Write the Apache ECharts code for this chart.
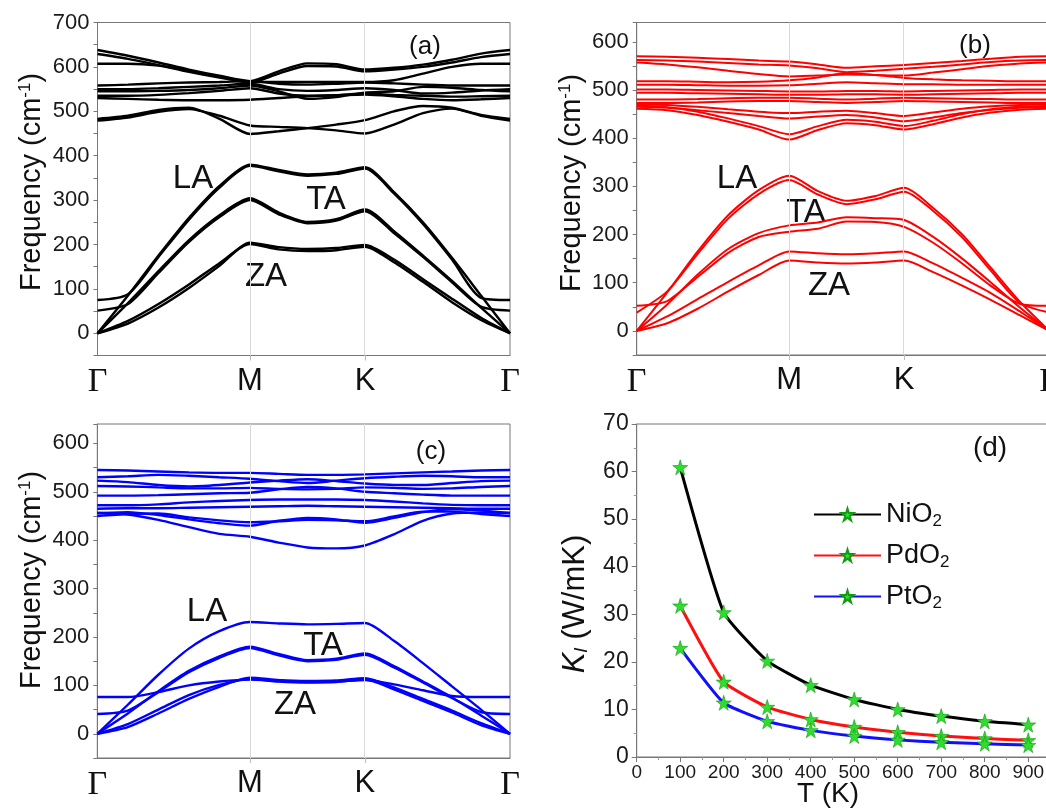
<!DOCTYPE html>
<html><head><meta charset="utf-8">
<script src="https://cdn.jsdelivr.net/npm/echarts@6/dist/echarts.min.js"></script>
<style>html,body{margin:0;padding:0;background:#fff}#c{width:1046px;height:808px}</style>
</head><body><div id="c"></div>
<script>
// ---- k-path (high-symmetry points) ----
const kLabels = ['Γ', 'M', 'K', 'Γ'];
const kSeg = [1.0, 0.754, 0.951];            // relative lengths Γ-M, M-K, K-Γ
const kFrac = [0, 0.2, 0.4, 0.6, 0.8, 1, 1.25, 1.5, 1.75, 2, 2.2, 2.4, 2.6, 2.8, 3];

// ---- (a) NiO2 phonon bands (cm-1) ----
const A_LA1 = [0, 85, 175, 260, 332, 380, 368, 358, 362, 374, 318, 250, 170, 85, 0];
const A_LA2 = [75, 88, 172, 256, 328, 377, 365, 355, 359, 371, 315, 246, 166, 80, 75];
const A_TA1 = [0, 68, 140, 210, 266, 304, 272, 251, 257, 279, 230, 175, 118, 58, 0];
const A_TA2 = [51, 66, 136, 206, 262, 300, 268, 248, 254, 275, 226, 172, 115, 60, 51];
const A_ZA1 = [0, 22, 58, 102, 152, 204, 194, 190, 192, 199, 166, 122, 78, 35, 0];
const A_ZA2 = [0, 28, 66, 110, 158, 201, 189, 185, 187, 195, 160, 116, 70, 30, 0];
const A_O1 = [638, 625, 610, 594, 580, 568, 590, 608, 606, 594, 598, 605, 616, 630, 638];
const A_O2 = [629, 618, 604, 589, 576, 565, 585, 602, 601, 590, 594, 600, 610, 622, 629];
const A_O3 = [607, 607, 603, 592, 578, 566, 566, 566, 566, 566, 570, 585, 600, 607, 607];
const A_O4 = [558, 560, 563, 565, 566, 568, 562, 560, 562, 565, 563, 560, 558, 558, 558];
const A_O5 = [550, 550, 552, 555, 558, 562, 550, 546, 548, 552, 548, 540, 542, 547, 550];
const A_O6 = [545, 545, 546, 548, 552, 558, 545, 528, 532, 542, 545, 555, 553, 548, 545];
const A_O7 = [535, 535, 537, 541, 546, 552, 540, 535, 536, 540, 537, 535, 533, 534, 535];
const A_O8 = [530, 528, 526, 525, 525, 526, 530, 534, 536, 538, 534, 528, 525, 527, 530];
const A_O9 = [483, 490, 503, 508, 483, 449, 455, 462, 470, 480, 500, 512, 508, 492, 483];
const A_O10 = [479, 486, 499, 505, 490, 468, 465, 462, 457, 450, 470, 496, 506, 490, 479];

// ---- (b) PdO2 phonon bands ----
const B_LA1 = [0, 80, 165, 240, 292, 322, 290, 270, 280, 297, 255, 200, 130, 60, 0];
const B_LA2 = [38, 82, 160, 233, 284, 313, 283, 263, 273, 289, 249, 194, 124, 58, 38];
const B_TA1 = [0, 55, 117, 170, 203, 219, 225, 236, 234, 230, 195, 150, 100, 48, 0];
const B_TA2 = [52, 62, 112, 162, 195, 206, 212, 227, 226, 216, 183, 140, 93, 56, 52];
const B_ZA1 = [0, 30, 66, 102, 136, 165, 161, 159, 161, 165, 140, 110, 78, 40, 0];
const B_ZA2 = [0, 16, 46, 82, 116, 146, 142, 140, 142, 146, 122, 94, 64, 32, 0];
const B_O1 = [570, 569, 567, 564, 561, 559, 553, 546, 549, 552, 556, 560, 565, 569, 570];
const B_O2 = [562, 561, 559, 556, 553, 551, 545, 537, 540, 544, 548, 553, 558, 561, 562];
const B_O3 = [557, 553, 547, 540, 533, 528, 530, 532, 531, 530, 536, 543, 550, 555, 557];
const B_O4 = [518, 518, 517, 516, 517, 520, 526, 535, 531, 525, 522, 520, 519, 518, 518];
const B_O5 = [511, 511, 510, 509, 509, 510, 513, 516, 514, 512, 512, 511, 511, 511, 511];
const B_O6 = [501, 501, 500, 499, 498, 497, 497, 498, 498, 497, 498, 499, 500, 501, 501];
const B_O7 = [494, 494, 493, 492, 491, 490, 490, 491, 491, 490, 491, 492, 493, 494, 494];
const B_O8 = [480, 480, 481, 483, 484, 484, 482, 480, 482, 484, 483, 482, 481, 480, 480];
const B_O9 = [473, 473, 474, 476, 477, 477, 475, 473, 475, 477, 476, 475, 474, 473, 473];
const B_O10 = [467, 464, 455, 441, 425, 408, 425, 438, 434, 425, 436, 450, 460, 465, 467];
const B_O11 = [461, 458, 448, 434, 418, 397, 417, 431, 427, 418, 429, 443, 453, 459, 461];
const B_O12 = [470, 469, 465, 460, 455, 452, 455, 457, 452, 446, 453, 461, 466, 469, 470];
const B_O13 = [465, 463, 458, 452, 446, 441, 445, 448, 443, 435, 443, 452, 459, 463, 465];

// ---- (c) PtO2 phonon bands ----
const C_LA1 = [0, 60, 122, 176, 212, 231, 228, 226, 227, 229, 192, 146, 98, 50, 0];
const C_TA1 = [0, 42, 88, 130, 160, 180, 165, 152, 155, 166, 140, 108, 75, 38, 0];
const C_TA2 = [41, 48, 86, 127, 157, 177, 162, 150, 153, 163, 137, 106, 74, 45, 41];
const C_ZA1 = [0, 14, 42, 72, 97, 116, 111, 109, 110, 115, 96, 72, 48, 22, 0];
const C_ZA2 = [0, 20, 50, 80, 101, 113, 108, 106, 107, 112, 92, 68, 44, 18, 0];
const C_LO = [76, 76, 86, 100, 108, 112, 109, 107, 108, 111, 102, 90, 78, 76, 76];
const C_O1 = [545, 544, 542, 540, 539, 539, 537, 535, 535, 536, 538, 540, 542, 544, 545];
const C_O2 = [530, 532, 535, 533, 530, 527, 522, 518, 523, 528, 531, 533, 532, 530, 530];
const C_O3 = [523, 520, 514, 511, 514, 519, 523, 526, 522, 517, 514, 514, 518, 522, 523];
const C_O4 = [512, 511, 509, 507, 507, 508, 506, 505, 506, 509, 508, 506, 507, 510, 512];
const C_O5 = [492, 492, 493, 495, 497, 498, 505, 510, 507, 500, 497, 494, 492, 492, 492];
const C_O6 = [472, 472, 474, 478, 481, 483, 484, 484, 484, 483, 480, 476, 473, 472, 472];
const C_O7 = [465, 466, 466, 467, 468, 469, 470, 471, 470, 469, 468, 467, 466, 465, 465];
const C_O8 = [456, 458, 452, 443, 435, 430, 440, 446, 443, 436, 446, 458, 464, 461, 456];
const C_O9 = [450, 454, 455, 447, 441, 437, 439, 442, 441, 439, 449, 459, 459, 454, 450];
const C_O10 = [456, 453, 442, 427, 413, 407, 395, 385, 383, 389, 412, 440, 455, 457, 456];

// ---- (d) lattice thermal conductivity ----
const T_K = [100, 200, 300, 400, 500, 600, 700, 800, 900];
const K_NiO2 = [60.9, 30.4, 20.2, 15.1, 12.1, 10.0, 8.6, 7.5, 6.8];
const K_PdO2 = [31.8, 15.8, 10.5, 7.9, 6.3, 5.2, 4.4, 3.9, 3.5];
const K_PtO2 = [22.9, 11.4, 7.5, 5.6, 4.4, 3.6, 3.1, 2.8, 2.5];
const yTicksFreq = [0, 100, 200, 300, 400, 500, 600, 700];

// ---------------------------------------------
const kTicks = [0, kSeg[0], kSeg[0] + kSeg[1], kSeg[0] + kSeg[1] + kSeg[2]];
function kx(s) {
  const i = Math.min(Math.floor(s), 2);
  return kTicks[i] + (s - i) * kSeg[i];
}
const FONT = 'Liberation Sans, Arial, sans-serif';
const SERIF = 'Liberation Serif, Times New Roman, serif';

const bandsA = [A_LA1, A_LA2, A_TA1, A_TA2, A_ZA1, A_ZA2, A_O1, A_O2, A_O3, A_O4, A_O5, A_O6, A_O7, A_O8, A_O9, A_O10];
const bandsB = [B_LA1, B_LA2, B_TA1, B_TA2, B_ZA1, B_ZA2, B_O1, B_O2, B_O3, B_O4, B_O5, B_O6, B_O7, B_O8, B_O9, B_O10, B_O11, B_O12, B_O13];
const bandsC = [C_LA1, C_TA1, C_TA2, C_ZA1, C_ZA2, C_LO, C_O1, C_O2, C_O3, C_O4, C_O5, C_O6, C_O7, C_O8, C_O9, C_O10];

function bandSeries(bands, idx, color, width) {
  const out = [];
  out.push({
    type: 'line', xAxisIndex: idx, yAxisIndex: idx, data: bands[0].map((f, i) => [kx(kFrac[i]), f]),
    showSymbol: false, lineStyle: { opacity: 0 }, silent: true, z: 1,
    markLine: {
      silent: true, symbol: ['none', 'none'], label: { show: false },
      lineStyle: { color: '#d9d9d9', width: 1, type: 'solid' },
      data: [{ xAxis: kTicks[1] }, { xAxis: kTicks[2] }], animation: false
    }
  });
  bands.forEach(b => out.push({
    type: 'line', xAxisIndex: idx, yAxisIndex: idx,
    data: b.map((f, i) => [kx(kFrac[i]), f]),
    showSymbol: false, smooth: 0.25, silent: true, z: 3,
    lineStyle: { color: color, width: width }
  }));
  return out;
}

function kXAxis(idx) {
  return {
    gridIndex: idx, type: 'value', min: 0, max: kTicks[3],
    axisLine: { show: true, onZero: false, lineStyle: { color: '#777', width: 1 } },
    axisTick: { show: true, customValues: [kTicks[1], kTicks[2]], length: 5, lineStyle: { color: '#bbb' } },
    axisLabel: {
      customValues: kTicks, margin: 10, showMinLabel: true, showMaxLabel: true,
      formatter: v => {
        const i = kTicks.findIndex(t => Math.abs(t - v) < 1e-6);
        if (i < 0) return '';
        return kLabels[i] === 'Γ' ? '{g|Γ}' : '{s|' + kLabels[i] + '}';
      },
      rich: {
        g: { fontFamily: SERIF, fontSize: 34, color: '#111' },
        s: { fontFamily: FONT, fontSize: 31, color: '#111' }
      }
    },
    splitLine: { show: false }
  };
}
function fYAxis(idx, max) {
  return {
    gridIndex: idx, type: 'value', min: -50, max: max, interval: 50,
    axisLine: { show: true, onZero: false, lineStyle: { color: '#777' } },
    axisTick: { show: true, length: 4, lineStyle: { color: '#777' } },
    axisLabel: {
      margin: 8, fontSize: 22, fontFamily: FONT, color: '#1a1a1a',
      formatter: v => (yTicksFreq.indexOf(v) >= 0 ? String(v) : '')
    },
    splitLine: { show: false }
  };
}

const star = 'path://M50,0 L61,35 L98,35 L68,57 L79,91 L50,70 L21,91 L32,57 L2,35 L39,35 Z';
function kSeries(name, data, color) {
  return {
    name: name, type: 'line', xAxisIndex: 3, yAxisIndex: 3,
    data: T_K.map((t, i) => [t, data[i]]),
    smooth: 0.15, symbol: star, symbolSize: 15, showSymbol: true,
    lineStyle: { color: color, width: 3 },
    itemStyle: { color: '#2fdc2f', borderColor: '#129a12', borderWidth: 0.6 },
    z: 3
  };
}

const series = [].concat(
  bandSeries(bandsA, 0, '#000000', 2.4),
  bandSeries(bandsB, 1, '#ff0000', 2),
  bandSeries(bandsC, 2, '#0000ff', 2.4),
  [kSeries('NiO2', K_NiO2, '#000000'), kSeries('PdO2', K_PdO2, '#ff1010'), kSeries('PtO2', K_PtO2, '#1010ff')]
);

function txt(x, y, text, size, extra) {
  return Object.assign({
    type: 'text', x: x, y: y, silent: true,
    style: { text: text, fontSize: size, fontFamily: FONT, fill: '#111', align: 'center', verticalAlign: 'middle' }
  }, extra || {});
}
function rtxt(x, y, text, rich) {
  return {
    type: 'text', x: x, y: y, rotation: Math.PI / 2, silent: true,
    style: { text: text, rich: rich, fill: '#111', align: 'center', verticalAlign: 'middle', fontFamily: FONT }
  };
}
const freqRich = {
  a: { fontSize: 29, fontFamily: FONT, color: '#111' },
  s: { fontSize: 17, fontFamily: FONT, color: '#111', padding: [0, 0, 14, 0] }
};
const freqName = '{a|Frequency (cm}{s|-1}{a|)}';

const grids = [
  { left: 97.5, top: 22.5, width: 412.5, height: 333 },
  { left: 636.7, top: 22.5, width: 412.5, height: 332.5 },
  { left: 97.3, top: 424, width: 412.7, height: 334 },
  { left: 636.7, top: 424, width: 413.3, height: 333 }
].map(g => Object.assign(g, { show: true, borderColor: '#777', borderWidth: 1, containLabel: false, outerBoundsMode: 'none' }));

const option = {
  animation: false,
  backgroundColor: '#ffffff',
  grid: grids,
  xAxis: [
    kXAxis(0), kXAxis(1), kXAxis(2),
    {
      gridIndex: 3, type: 'value', min: 0, max: 950, interval: 100,
      axisLine: { show: true, onZero: false, lineStyle: { color: '#777' } },
      axisTick: { show: true, length: 5, lineStyle: { color: '#777' } },
      minorTick: { show: true, splitNumber: 2, length: 3, lineStyle: { color: '#999' } },
      axisLabel: { margin: 6, fontSize: 19, fontFamily: FONT, color: '#1a1a1a', formatter: v => (v % 100 === 0 && v <= 900 ? String(v) : '') },
      splitLine: { show: false }
    }
  ],
  yAxis: [
    fYAxis(0, 700), fYAxis(1, 640), fYAxis(2, 640),
    {
      gridIndex: 3, type: 'value', min: 0, max: 70, interval: 10,
      axisLine: { show: true, onZero: false, lineStyle: { color: '#777' } },
      axisTick: { show: true, length: 5, lineStyle: { color: '#777' } },
      minorTick: { show: true, splitNumber: 2, length: 3, lineStyle: { color: '#999' } },
      axisLabel: { margin: 8, fontSize: 23, fontFamily: FONT, color: '#1a1a1a' },
      splitLine: { show: false }
    }
  ],
  legend: {
    orient: 'vertical', left: 808, top: 496, itemWidth: 67, itemHeight: 15, itemGap: 12,
    data: ['NiO2', 'PdO2', 'PtO2'],
    formatter: n => '{b|' + n.slice(0, -1) + '}{s|' + n.slice(-1) + '}',
    textStyle: {
      color: '#111',
      rich: {
        b: { fontSize: 27, fontFamily: FONT, color: '#111' },
        s: { fontSize: 17, fontFamily: FONT, color: '#111', padding: [14, 0, 0, 0] }
      }
    }
  },
  graphic: [
    txt(425, 47, '(a)', 26), txt(975, 46, '(b)', 26), txt(431, 452, '(c)', 26), txt(990, 448, '(d)', 28),
    txt(193, 179, 'LA', 33), txt(326, 200, 'TA', 33), txt(266, 277, 'ZA', 33),
    txt(737, 179, 'LA', 33), txt(806, 213, 'TA', 33), txt(829, 286, 'ZA', 33),
    txt(207, 612, 'LA', 33), txt(323, 646, 'TA', 33), txt(295, 705, 'ZA', 33),
    txt(828, 794, 'T (K)', 28),
    rtxt(32, 182, freqName, freqRich),
    rtxt(572, 183, freqName, freqRich),
    rtxt(32, 580, freqName, freqRich),
    rtxt(575, 604, '{i|K}{l|l}{a| (W/mK)}', {
      i: { fontSize: 31, fontStyle: 'italic', fontFamily: FONT, color: '#111' },
      l: { fontSize: 19, fontStyle: 'italic', fontFamily: FONT, color: '#111', padding: [13, 0, 0, 0] },
      a: { fontSize: 31, fontFamily: FONT, color: '#111' }
    })
  ],
  series: series
};

const chart = echarts.init(document.getElementById('c'), null, { renderer: 'canvas' });
chart.setOption(option);
</script>
</body></html>
